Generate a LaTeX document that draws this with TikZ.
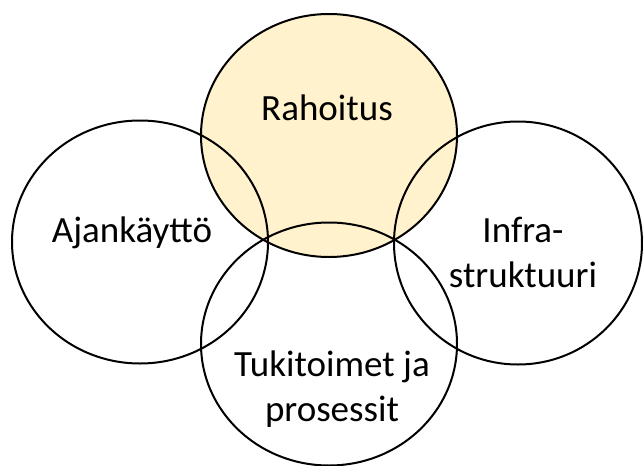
\documentclass[tikz,border=0pt]{standalone}
\usepackage{fontspec}
\setmainfont{Carlito}
\usetikzlibrary{shapes.geometric}
\definecolor{cream}{HTML}{FFF2CC}
\tikzset{
  ring/.style={ellipse, draw=black, line width=2pt, inner sep=0pt, outer sep=0pt,
    minimum width=256pt, minimum height=243pt},
  lbl/.style={font=\fontsize{37}{45}\selectfont, align=center, anchor=base, inner sep=0pt}
}
\begin{document}
\begin{tikzpicture}[x=1pt,y=-1pt]
\useasboundingbox[fill=white] (0,0) rectangle (643,466);
\node[ring, fill=cream] (rah) at (329,135.5) {};
\node[ring] (aja) at (140,242) {};
\node[ring, minimum width=248pt] (inf) at (518,243) {};
\node[ring] (tuk) at (329,344) {};
\node[lbl] (trah) at (327,120) {Rahoitus};
\node[lbl] (taja) at (132,242) {Ajankäyttö};
\node[lbl] (tinf) at (523,287) {Infra-\\struktuuri};
\node[lbl] (ttuk) at (332,421) {Tukitoimet ja\\prosessit};
\end{tikzpicture}
\end{document}
